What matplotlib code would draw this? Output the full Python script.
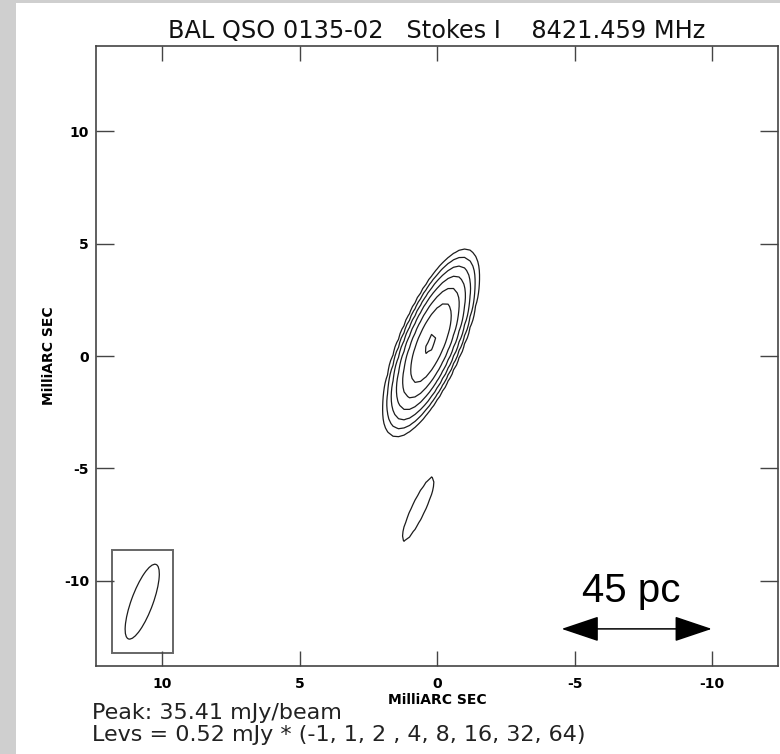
import matplotlib
matplotlib.use("Agg")
import matplotlib.pyplot as plt
import numpy as np
from matplotlib.patches import Ellipse, Rectangle

# header / footer text
title = "BAL QSO 0135-02   Stokes I    8421.459 MHz"
peak_mjy = 35.41
base_level = 0.52
level_mult = [-1, 1, 2, 4, 8, 16, 32, 64]

# gaussian components (mas, mJy/beam, FWHM mas, PA deg)
comp_flux = [35.41, 0.75]
comp_x = [0.22, 0.68]
comp_y = [0.58, -6.80]
comp_major = [3.54, 4.24]
comp_minor = [0.95, 0.71]
comp_pa = [-18.0, -20.7]

# restoring beam (drawn in the corner box)
beam_xy = [10.72, -10.92]
beam_major, beam_minor, beam_pa = 3.46, 0.80, -16.4
beam_box = [2.22, 4.58]

# axes
xticks = [10, 5, 0, -5, -10]
yticks = [-10, -5, 0, 5, 10]
xlim = (12.4, -12.4)
ylim = (-13.78, 13.78)

# linear scale bar
bar_x = [-4.53, -9.99]
bar_y = -12.13
bar_label = "45 pc"
bar_label_xy = [-7.07, -10.93]

fig = plt.figure(figsize=(7.8, 7.54), dpi=100, facecolor="#cfcfcf")
# white slide area (screenshot has a grey strip at left/top)
fig.add_artist(Rectangle((16 / 780, 0), 1, 1 - 3 / 754, transform=fig.transFigure,
                         facecolor="white", edgecolor="none", zorder=-1))

ax = fig.add_axes([0.1231, 0.1167, 0.8744, 0.8223])
ax.set_facecolor("white")

# build the map from the components (coarse grid like the original map pixels)
gx = np.arange(-12.4, 12.41, 0.2)
gy = np.arange(-13.8, 13.81, 0.2)
X, Y = np.meshgrid(gx, gy)
img = np.zeros_like(X)
for f, x0, y0, bmaj, bmin, pa in zip(comp_flux, comp_x, comp_y, comp_major, comp_minor, comp_pa):
    t = np.radians(pa)
    dx, dy = X - x0, Y - y0
    u = dx * np.sin(t) + dy * np.cos(t)
    v = dx * np.cos(t) - dy * np.sin(t)
    smaj, smin = bmaj / 2.3548, bmin / 2.3548
    img += f * np.exp(-0.5 * (u**2 / smaj**2 + v**2 / smin**2))

levels = base_level * np.array(level_mult, dtype=float)
ax.contour(X, Y, img, levels=levels, colors="#1c1c1c", linewidths=0.9)

# beam
ax.add_patch(Rectangle((beam_xy[0] - beam_box[0] / 2, beam_xy[1] - beam_box[1] / 2),
                       beam_box[0], beam_box[1], fill=False, edgecolor="#666666", lw=1.4))
ax.add_patch(Ellipse(beam_xy, width=beam_minor, height=beam_major, angle=-beam_pa,
                     fill=False, edgecolor="#1c1c1c", lw=0.9))

# scale bar
ax.annotate("", xy=(bar_x[1], bar_y), xytext=(bar_x[0], bar_y),
            arrowprops=dict(arrowstyle="<|-|>,head_length=1.19,head_width=0.40",
                            mutation_scale=20, color="black", lw=1.1,
                            shrinkA=0, shrinkB=0))
ax.text(bar_label_xy[0], bar_label_xy[1], bar_label, ha="center", va="baseline",
        fontsize=29, family=["Liberation Sans", "DejaVu Sans"], color="black")

ax.set_xlim(*xlim)
ax.set_ylim(*ylim)
ax.set_xticks(xticks)
ax.set_yticks(yticks)
ax.set_xticklabels([str(v) for v in xticks])
ax.set_yticklabels([str(v) for v in yticks])

for s in ax.spines.values():
    s.set_color("#444444")
    s.set_linewidth(1.2)
ax.tick_params(direction="in", top=True, right=True, color="#444444", width=1,
               labelsize=10, labelcolor="black")
ax.tick_params(axis="x", length=11, pad=8)
ax.tick_params(axis="y", length=13, pad=5)
for lab in ax.get_xticklabels() + ax.get_yticklabels():
    lab.set_fontweight("bold")

ax.set_xlabel("MilliARC SEC", fontsize=10, fontweight="bold", labelpad=1)
ax.set_ylabel("MilliARC SEC", fontsize=10, fontweight="bold", labelpad=6)
ax.set_title(title, fontsize=17.3, color="#111111", pad=6)

fig.text(92 / 780, 1 - 719 / 754, f"Peak: {peak_mjy:.2f} mJy/beam",
         fontsize=16, color="#222222", va="baseline")
fig.text(92 / 780, 1 - 741 / 754,
         f"Levs = {base_level:.2f} mJy * (-1, 1, 2 , 4, 8, 16, 32, 64)",
         fontsize=16, color="#222222", va="baseline")

fig.savefig("out.png", dpi=100, facecolor=fig.get_facecolor())
